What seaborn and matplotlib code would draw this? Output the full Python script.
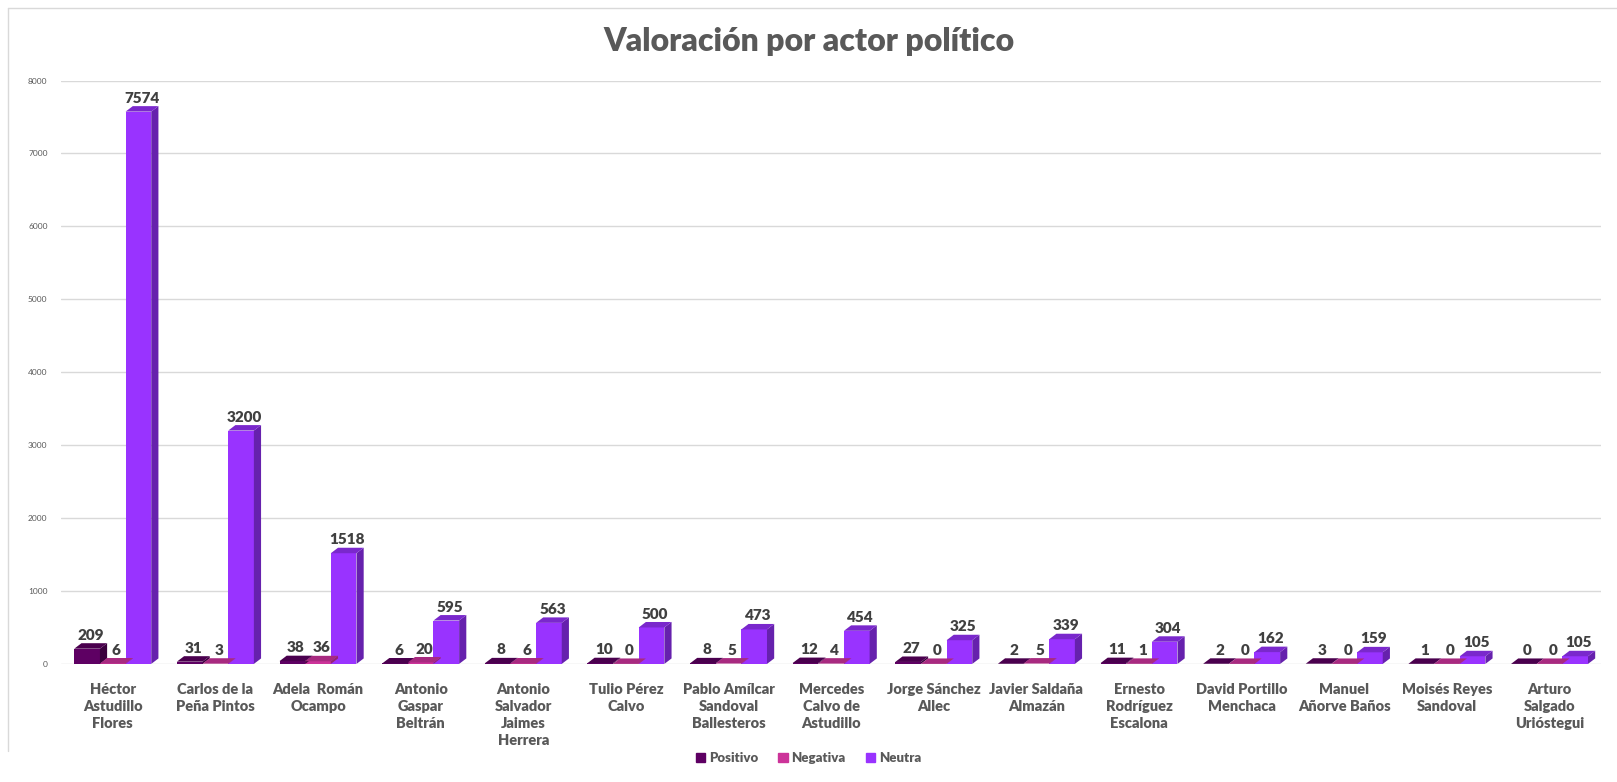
import numpy as np
import pandas as pd
import matplotlib
matplotlib.use("Agg")
import matplotlib.pyplot as plt
from matplotlib.patches import Polygon
from matplotlib.lines import Line2D
import seaborn as sns

actores = [
    "Héctor\nAstudillo\nFlores", "Carlos de la\nPeña Pintos", "Adela  Román\nOcampo",
    "Antonio\nGaspar\nBeltrán", "Antonio\nSalvador\nJaimes\nHerrera", "Tulio Pérez\nCalvo",
    "Pablo Amílcar\nSandoval\nBallesteros", "Mercedes\nCalvo de\nAstudillo",
    "Jorge Sánchez\nAllec", "Javier Saldaña\nAlmazán", "Ernesto\nRodríguez\nEscalona",
    "David Portillo\nMenchaca", "Manuel\nAñorve Baños", "Moisés Reyes\nSandoval",
    "Arturo\nSalgado\nUrióstegui",
]
positivo = [209, 31, 38, 6, 8, 10, 8, 12, 27, 2, 11, 2, 3, 1, 0]
negativa = [6, 3, 36, 20, 6, 0, 5, 4, 0, 5, 1, 0, 0, 0, 0]
neutra = [7574, 3200, 1518, 595, 563, 500, 473, 454, 325, 339, 304, 162, 159, 105, 105]
series = ["Positivo", "Negativa", "Neutra"]

colores = {"Positivo": "#5E0063", "Negativa": "#CC3399", "Neutra": "#9933FF"}
lados = {"Positivo": "#3A003D", "Negativa": "#952470", "Neutra": "#6621AD"}
techos = {"Positivo": "#4A004E", "Negativa": "#A82A80", "Neutra": "#7A28CC"}

rows = []
for serie, vals in zip(series, [positivo, negativa, neutra]):
    for actor, v in zip(actores, vals):
        rows.append({"actor": actor, "tipo": serie, "valor": v})
df = pd.DataFrame(rows)

sns.set_style("white")
plt.rcParams["font.family"] = ["Lato", "DejaVu Sans"]

fig = plt.figure(figsize=(16.17, 7.82), dpi=100)
ax = fig.add_axes([0.038, 0.151, 0.952, 0.746])

sns.barplot(data=df, x="actor", y="valor", hue="tipo", hue_order=series,
            palette=colores, width=0.75, gap=0, saturation=1, ax=ax,
            legend=False, errorbar=None, zorder=3, edgecolor="none", linewidth=0)

ax.set_ylim(0, 8000)
ax.set_xlim(-0.5, len(actores) - 0.5)
ax.set_yticks(range(0, 8001, 1000))
ax.grid(axis="y", color="#d9d9d9", linewidth=1, zorder=0)
for s in ax.spines.values():
    s.set_visible(False)

# fake 3D faces derived from each bar
dx, dy = 0.07, 75
gray_txt = "#404040"
for serie, container in zip(series, ax.containers):
    for rect in container:
        x, w, h = rect.get_x(), rect.get_width(), rect.get_height()
        side = [(x + w, 0), (x + w + dx, dy), (x + w + dx, h + dy), (x + w, h)]
        top = [(x, h), (x + dx, h + dy), (x + w + dx, h + dy), (x + w, h)]
        ax.add_patch(Polygon(side, closed=True, facecolor=lados[serie],
                             edgecolor="none", zorder=4))
        ax.add_patch(Polygon(top, closed=True, facecolor=techos[serie],
                             edgecolor="none", zorder=4))
        ax.text(x + w / 2 + dx / 2, h + dy + 20, f"{int(h)}", ha="center", va="bottom",
                fontsize=11, fontweight="heavy", color=gray_txt, zorder=5)

ax.set_xlabel("")
ax.set_ylabel("")
ax.tick_params(axis="x", length=0, pad=14, labelsize=10.5, labelcolor="#595959")
ax.tick_params(axis="y", length=0, pad=10, labelsize=6, labelcolor="#595959")
for lbl in ax.get_xticklabels():
    lbl.set_fontweight("heavy")
    lbl.set_linespacing(1.35)

fig.suptitle("Valoración por actor político", x=0.5, y=0.965, fontsize=23,
             fontweight="heavy", color="#595959")

handles = [plt.Rectangle((0, 0), 1, 1, color=colores[s]) for s in series]
leg = fig.legend(handles, series, loc="lower center", bbox_to_anchor=(0.5, 0.008),
                 ncol=3, frameon=False, handlelength=0.7, handleheight=0.7,
                 handletextpad=0.3, columnspacing=1.5,
                 prop={"weight": "heavy", "size": 9.5})
for t in leg.get_texts():
    t.set_color("#595959")

# chart area border
fig.add_artist(Line2D([0.005, 0.005], [0.04, 0.99], color="#d9d9d9", linewidth=1))
fig.add_artist(Line2D([0.005, 1.0], [0.99, 0.99], color="#d9d9d9", linewidth=1))

fig.savefig("out.png", dpi=100)
